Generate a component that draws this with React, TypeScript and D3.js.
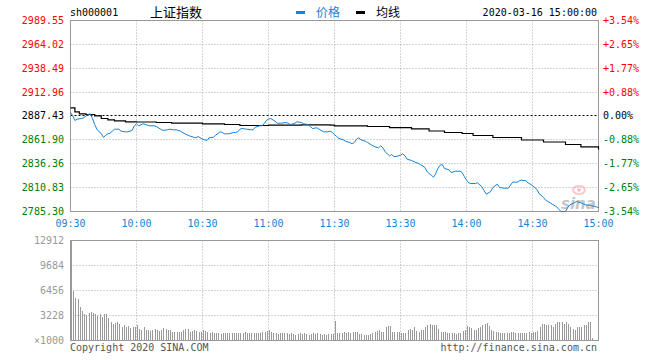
import React from "react";
import * as d3 from "d3";

// ---- data ----
const priceTicks = [2785.3, 2810.83, 2836.36, 2861.9, 2887.43, 2912.96, 2938.49, 2964.02, 2989.55];
const pctTicks = ["-3.54%", "-2.65%", "-1.77%", "-0.88%", "0.00%", "+0.88%", "+1.77%", "+2.65%", "+3.54%"];
const prevClose = 2887.43;
const volTicks = [0, 3228, 6456, 9684, 12912];
const volTickLabels = ["×1000", "3228", "6456", "9684", "12912"];
const timeTicks = [0, 30, 60, 90, 120, 150, 180, 210, 240];
const timeLabels = ["09:30", "10:00", "10:30", "11:00", "11:30", "13:30", "14:00", "14:30", "15:00"];

// minute index (0..240) and price of the price line
const priceMin = [0,1,2,3,5,6,8,9,10,11,12,13,14,15,16,17,18,19,20,22,23,25,26,28,29,30,31,33,34,36,38,39,41,42,44,45,47,48,50,52,54,56,57,58,60,62,63,65,66,68,69,70,72,74,75,76,77,78,80,82,83,84,86,87,88,89,90,91,93,94,96,98,99,100,102,103,105,106,108,109,110,112,113,115,117,118,119,120,121,122,124,125,127,128,129,130,131,132,134,135,137,138,140,141,142,143,144,145,146,147,148,150,151,152,153,155,157,158,159,161,162,163,164,165,166,167,168,169,170,172,173,175,177,178,179,180,181,182,184,185,187,188,189,191,192,194,195,197,199,201,203,204,205,207,208,210,212,213,215,216,218,219,221,222,223,225,226,227,229,230,232,234,236,238,240];
const priceVal = [2891.17,2887.64,2882.61,2884.0,2884.75,2885.5,2889.03,2889.78,2884.75,2878.34,2873.31,2870.53,2868.71,2864.44,2866.89,2868.39,2869.03,2871.17,2873.31,2873.31,2871.17,2870.53,2870.53,2871.92,2876.95,2879.09,2876.95,2879.09,2878.34,2876.95,2876.95,2876.19,2873.31,2871.92,2872.67,2873.31,2872.67,2872.67,2871.17,2868.39,2866.25,2864.76,2864.11,2865.5,2862.62,2861.23,2864.11,2864.76,2866.89,2870.53,2869.78,2868.39,2868.39,2869.78,2869.78,2870.53,2873.31,2874.06,2873.31,2872.67,2872.67,2875.45,2876.95,2876.95,2879.09,2882.61,2884.0,2884.75,2881.87,2879.73,2879.73,2880.48,2879.73,2878.34,2879.73,2881.22,2880.48,2879.09,2878.34,2876.19,2874.06,2874.81,2873.31,2870.53,2870.53,2871.17,2869.78,2867.64,2865.5,2863.37,2861.98,2860.48,2859.09,2857.7,2859.09,2862.62,2864.11,2861.98,2860.48,2859.09,2856.2,2854.81,2853.42,2855.56,2853.42,2849.14,2847.0,2844.87,2846.26,2844.12,2844.12,2845.51,2847.0,2844.87,2841.24,2839.84,2837.7,2836.96,2835.56,2832.68,2828.4,2825.62,2824.12,2821.98,2825.62,2831.28,2834.81,2835.56,2831.28,2829.89,2827.01,2828.4,2828.4,2827.01,2822.74,2818.77,2815.99,2815.25,2815.25,2815.99,2811.72,2807.44,2803.8,2806.68,2810.97,2814.5,2810.97,2810.22,2810.22,2816.63,2816.63,2818.13,2818.77,2818.13,2815.99,2813.11,2808.82,2804.55,2800.26,2797.38,2794.6,2793.11,2790.33,2787.45,2785.31,2785.31,2789.57,2792.47,2794.6,2796.0,2794.6,2792.47,2791.71,2790.97,2789.57];

// average price line
const avgMin = [0,2,4,7,10,11,14,17,20,25,30,39,46,60,70,77,90,105,118,120,135,145,155,163,170,178,183,192,205,215,225,232,240];
const avgVal = [2896.2,2891.92,2889.78,2889.03,2889.03,2887.64,2884.75,2883.36,2882.29,2881.22,2881.01,2880.48,2879.73,2879.09,2878.34,2877.27,2877.59,2877.95,2877.59,2876.95,2876.19,2875.04,2873.74,2871.39,2869.78,2868.71,2866.58,2864.44,2861.76,2859.62,2856.95,2854.49,2851.6];

// volume per minute (×1000)
const volumes = [12912,6413,5466,5294,4261,3831,3486,3314,3572,3744,3572,3400,3228,3400,3056,3400,3486,2883,2367,2195,2281,2453,2109,1765,2023,1679,1851,1592,1679,1765,2023,1506,1420,1679,1420,1334,1248,1420,1506,1334,1248,1420,1592,1506,1420,1334,1162,1162,1162,1162,1076,1334,1506,1506,1162,1248,1420,1248,1162,1162,1334,1248,1162,990,1162,990,904,904,818,904,904,990,904,990,904,990,904,904,990,1076,904,990,904,904,990,904,904,1076,1076,1248,1334,1076,990,904,818,904,904,904,904,818,904,818,732,818,904,818,904,818,732,818,904,818,904,818,732,818,732,818,818,818,2582,990,904,990,1076,990,1076,990,1076,1076,1076,818,818,646,646,732,818,990,1076,1248,1420,1162,1162,1679,1851,1851,1162,1162,1076,1162,990,904,990,1334,1506,1420,1679,1248,1162,1334,1420,1765,2023,2195,2023,1937,2023,1506,1162,1162,1162,904,904,904,904,818,904,990,1248,1420,1851,1679,1592,1420,1334,1592,1679,2023,2195,2281,1851,1334,1248,1162,1076,990,904,904,990,990,1076,1076,904,990,990,904,904,990,1076,990,1076,1162,1248,1679,2109,2109,2023,2023,1937,1765,2109,2367,2367,2367,2109,2453,2109,1679,1506,1420,1679,1679,1765,1937,2023,2367,2367,301,0,0,0];

const MONO = "'DejaVu Sans Mono', 'Liberation Mono', monospace";
const CJK = "'Noto Sans CJK SC', sans-serif";
const BLUE = "#1683d8";
const GREEN = "#008000";
const RED = "#ff0000";

export default function App() {
  const W = 660, H = 360;
  const x0 = 70.5, x1 = 598.5;
  const x = d3.scaleLinear().domain([0, 240]).range([x0, x1]);
  const yTop = 20.5, yBot = 211.5;
  const y = d3.scaleLinear().domain([priceTicks[0], priceTicks[priceTicks.length - 1]]).range([yBot, yTop]);
  const vTop = 240.5, vBot = 340.5;
  const yv = d3.scaleLinear().domain([0, 12912]).range([vBot, vTop]);
  const snap = (v: number) => Math.round(v - 0.5) + 0.5;

  const pricePts: [number, number][] = priceMin.map((m, i) => [m, priceVal[i]]);
  const avgPts: [number, number][] = avgMin.map((m, i) => [m, avgVal[i]]);
  const line = d3.line<[number, number]>().x(d => x(d[0])).y(d => y(d[1]));
  const avgLine = d3.line<[number, number]>().x(d => x(d[0])).y(d => y(d[1])).curve(d3.curveStepAfter);

  const colorFor = (i: number) => (i > 4 ? RED : i === 4 ? "#000" : GREEN);

  return (
    <svg width={W} height={H} style={{ position: "absolute", left: 0, top: 0, background: "#fff" }}>
      {/* header */}
      <text x={70} y={16} fontFamily={MONO} fontSize={10} fill="#000">sh000001</text>
      <text x={150} y={17} fontFamily={CJK} fontSize={13} fill="#000">上证指数</text>
      <rect x={296} y={11} width={9} height={3} fill={BLUE} />
      <text x={316} y={17} fontFamily={CJK} fontSize={12} fill={BLUE}>价格</text>
      <rect x={356} y={11} width={9} height={3} fill="#000" />
      <text x={376} y={17} fontFamily={CJK} fontSize={12} fill="#000">均线</text>
      <text x={597} y={16} textAnchor="end" fontFamily={MONO} fontSize={10} fill="#000">2020-03-16 15:00:00</text>

      {/* price grid */}
      {priceTicks.slice(1, -1).map((p, i) =>
        p === prevClose ? null : (
          <line key={"hg" + i} x1={x0} x2={x1} y1={snap(y(p))} y2={snap(y(p))} stroke="#aaa" strokeDasharray="1,2" />
        )
      )}
      {timeTicks.slice(1, -1).map((t, i) => (
        <line key={"vg" + i} x1={snap(x(t))} x2={snap(x(t))} y1={yTop} y2={yBot} stroke="#aaa" strokeDasharray="1,2" />
      ))}
      <line x1={x0} x2={x1} y1={snap(y(prevClose))} y2={snap(y(prevClose))} stroke="#000" strokeDasharray="2,2" />
      <rect x={x0} y={yTop} width={x1 - x0} height={yBot - yTop} fill="none" stroke="#999" />

      {/* watermark */}
      <g opacity={0.55}>
        <ellipse cx={579} cy={190} rx={6} ry={4} fill="none" stroke="#f4a0a0" strokeWidth={2} />
        <circle cx={579} cy={190} r={1.8} fill="#f08080" />
        <text x={561} y={209} fontFamily="'DejaVu Sans', sans-serif" fontStyle="italic" fontWeight="bold" fontSize={15} fill="#999">sina</text>
      </g>

      {/* lines */}
      <path d={avgLine(avgPts) || ""} fill="none" stroke="#000" strokeWidth={1.2} />
      <path d={line(pricePts) || ""} fill="none" stroke={BLUE} strokeWidth={1} />

      {/* left price labels */}
      {priceTicks.map((p, i) => (
        <text key={"pl" + i} x={64} y={snap(y(p)) + 3.5} textAnchor="end" fontFamily={MONO} fontSize={10} fill={colorFor(i)}>
          {p.toFixed(2)}
        </text>
      ))}
      {/* right pct labels */}
      {pctTicks.map((s, i) => (
        <text key={"pr" + i} x={603} y={snap(y(priceTicks[i])) + 3.5} fontFamily={MONO} fontSize={10} fill={colorFor(i)}>
          {s}
        </text>
      ))}
      {/* time labels */}
      {timeTicks.map((t, i) => (
        <text key={"tl" + i} x={x(t)} y={227} textAnchor="middle" fontFamily={MONO} fontSize={10} fill={BLUE}>
          {timeLabels[i]}
        </text>
      ))}

      {/* volume panel */}
      {volTicks.slice(1, -1).map((v, i) => (
        <line key={"vh" + i} x1={x0} x2={x1} y1={snap(yv(v))} y2={snap(yv(v))} stroke="#aaa" strokeDasharray="1,2" />
      ))}
      {timeTicks.slice(1, -1).map((t, i) => (
        <line key={"vv" + i} x1={snap(x(t))} x2={snap(x(t))} y1={vTop} y2={vBot} stroke="#aaa" strokeDasharray="1,2" />
      ))}
      {volumes.map((v, i) =>
        v > 0 ? (
          <rect key={"b" + i} x={Math.floor(x(i)) + 1} y={yv(v)} width={1} height={vBot - yv(v)} fill="#999" shapeRendering="crispEdges" />
        ) : null
      )}
      <rect x={x0} y={vTop} width={x1 - x0} height={vBot - vTop} fill="none" stroke="#999" />
      {volTicks.map((v, i) => (
        <text key={"vl" + i} x={64} y={snap(yv(v)) + 3.5} textAnchor="end" fontFamily={MONO} fontSize={10} fill="#999">
          {volTickLabels[i]}
        </text>
      ))}

      {/* footer */}
      <text x={70} y={351} fontFamily={MONO} fontSize={10} fill="#555">Copyright 2020 SINA.COM</text>
      <text x={597} y={351} textAnchor="end" fontFamily={MONO} fontSize={10} fill="#555">http://finance.sina.com.cn</text>
    </svg>
  );
}
